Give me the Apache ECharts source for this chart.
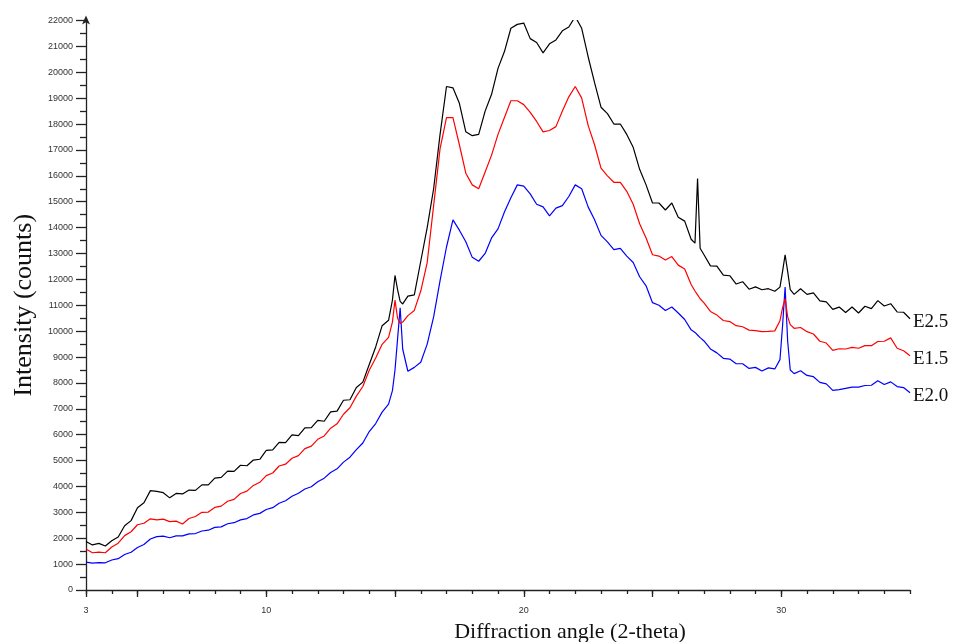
<!DOCTYPE html>
<html>
<head>
<meta charset="utf-8">
<title>XRD patterns</title>
<script src="https://cdn.jsdelivr.net/npm/echarts@6/dist/echarts.min.js"></script>
<style>
  html, body { margin: 0; padding: 0; background: #fff; }
  #chart { width: 956px; height: 642px; }
</style>
</head>
<body>
<div id="chart"></div>
<script>
// Diffraction angle (2-theta), shared by all three patterns
const angles = [
  3.00, 3.25, 3.50, 3.75, 4.00, 4.25, 4.50, 4.75, 5.00, 5.25, 5.50, 5.75,
  6.00, 6.25, 6.50, 6.75, 7.00, 7.25, 7.50, 7.75, 8.00, 8.25, 8.50, 8.75,
  9.00, 9.25, 9.50, 9.75, 10.00, 10.25, 10.50, 10.75, 11.00, 11.25, 11.50, 11.75,
  12.00, 12.25, 12.50, 12.75, 13.00, 13.25, 13.50, 13.75, 14.00, 14.25, 14.50, 14.75,
  14.90, 15.00, 15.10, 15.20, 15.30,
  15.50, 15.75, 16.00, 16.25, 16.50, 16.75, 17.00, 17.25, 17.50, 17.75, 18.00, 18.25,
  18.50, 18.75, 19.00, 19.25, 19.50, 19.75, 20.00, 20.25, 20.50, 20.75, 21.00, 21.25,
  21.50, 21.75, 22.00, 22.25, 22.50, 22.75, 23.00, 23.25, 23.50, 23.75, 24.00, 24.25,
  24.50, 24.75, 25.00, 25.25, 25.50, 25.75, 26.00, 26.25, 26.50,
  26.65, 26.75, 26.85,
  27.00, 27.25, 27.50, 27.75, 28.00, 28.25, 28.50, 28.75, 29.00, 29.25, 29.50, 29.75,
  29.95, 30.05, 30.15, 30.25, 30.35,
  30.50, 30.75, 31.00, 31.25, 31.50, 31.75, 32.00, 32.25, 32.50, 32.75, 33.00, 33.25,
  33.50, 33.75, 34.00, 34.25, 34.50, 34.75, 35.00
];

// Intensity (counts) for each sample
const countsE25 = [
  1870, 1740, 1800, 1700, 1900, 2050, 2480, 2680, 3180, 3370, 3840, 3810,
  3760, 3560, 3730, 3710, 3860, 3850, 4060, 4060, 4320, 4350, 4590, 4580,
  4820, 4800, 5020, 5050, 5390, 5410, 5700, 5690, 5990, 5960, 6260, 6270,
  6550, 6520, 6880, 6910, 7330, 7350, 7820, 8030, 8710, 9390, 10210, 10420,
  11200, 12150, 11600, 11150, 11050,
  11350, 11400, 12700, 14000, 15500, 17600, 19450, 19400, 18800, 17700, 17550, 17600,
  18500, 19150, 20150, 20800, 21700, 21850, 21900, 21300, 21150, 20750, 21100, 21250,
  21600, 21750, 22150, 21700, 20600, 19600, 18650, 18400, 18000, 18000, 17600, 17100,
  16250, 15650, 14950, 14950, 14680, 14950, 14400, 14250, 13550,
  13400, 15900, 13200,
  12950, 12520, 12510, 12160, 12140, 11820, 11910, 11620, 11710, 11600, 11640, 11540,
  11700, 12300, 12950, 12300, 11600,
  11420, 11640, 11420, 11480, 11170, 11130, 10840, 10930, 10720, 10930, 10700, 10960,
  10870, 11180, 10970, 11060, 10740, 10730, 10480
];

const countsE15 = [
  1580, 1440, 1460, 1440, 1660, 1810, 2100, 2250, 2520, 2580, 2750, 2710,
  2740, 2640, 2660, 2550, 2760, 2840, 3000, 3010, 3190, 3240, 3430, 3500,
  3730, 3820, 4040, 4160, 4420, 4520, 4790, 4860, 5090, 5190, 5460, 5560,
  5820, 5950, 6250, 6420, 6790, 7040, 7490, 7860, 8490, 8960, 9490, 9760,
  10350, 11200, 10500, 10300, 10350,
  10600, 10800, 11550, 12650, 14850, 17050, 18250, 18250, 17200, 16100, 15650, 15500,
  16150, 16800, 17600, 18250, 18900, 18900, 18750, 18450, 18100, 17700, 17750, 17900,
  18500, 19050, 19450, 19000, 17950, 17200, 16300, 16000, 15750, 15750, 15400, 14900,
  14150, 13600, 12950, 12900, 12750, 12880, 12550, 12400, 11800,
  11550, 11400, 11250,
  11090, 10760, 10620, 10410, 10370, 10210, 10170, 10040, 10020, 9980, 9990, 10010,
  10400, 10900, 11250, 10550, 10250,
  10110, 10140, 9980, 9890, 9610, 9540, 9260, 9320, 9310, 9370, 9340, 9440,
  9440, 9600, 9610, 9740, 9340, 9240, 9050
];

const countsE20 = [
  1080, 1040, 1060, 1050, 1160, 1210, 1370, 1460, 1640, 1760, 1970, 2060,
  2080, 2020, 2090, 2090, 2170, 2180, 2280, 2310, 2420, 2440, 2560, 2600,
  2710, 2760, 2900, 2960, 3110, 3180, 3350, 3450, 3620, 3740, 3900, 3990,
  4180, 4320, 4540, 4680, 4940, 5130, 5420, 5680, 6120, 6430, 6870, 7180,
  7700, 8500, 9700, 10900, 9300,
  8450, 8600, 8800, 9500, 10550, 11950, 13250, 14300, 13900, 13450, 12850, 12700,
  13000, 13600, 13950, 14600, 15150, 15650, 15600, 15300, 14900, 14800, 14450, 14750,
  14850, 15200, 15650, 15500, 14800, 14300, 13700, 13450, 13150, 13200, 12900, 12650,
  12100, 11750, 11100, 11000, 10800, 10930, 10700, 10450, 10050,
  9950, 9850, 9750,
  9620, 9310, 9160, 8950, 8920, 8740, 8740, 8560, 8600, 8460, 8580, 8540,
  8900, 10200, 11700, 9600, 8500,
  8360, 8470, 8290, 8240, 8020, 7960, 7710, 7740, 7790, 7840, 7840, 7900,
  7910, 8080, 7940, 8040, 7860, 7820, 7620
];

const sampleNames = ['E2.5', 'E1.5', 'E2.0'];
const sampleColors = ['#000000', '#ff0000', '#0000ff'];
const sampleCounts = [countsE25, countsE15, countsE20];

const xLabelValues = [3, 10, 20, 30];
const xMajorTickValues = [3, 5, 10, 15, 20, 25, 30];

const axisColor = '#222';
const labelFont = 'Liberation Sans, Arial, sans-serif';
const titleFont = 'Liberation Serif, Times New Roman, serif';

const chart = echarts.init(document.getElementById('chart'), null, { renderer: 'canvas' });

const series = sampleNames.map((name, i) => ({
  name: name,
  type: 'line',
  xAxisIndex: 0,
  yAxisIndex: 0,
  showSymbol: false,
  symbol: 'none',
  animation: false,
  lineStyle: { color: sampleColors[i], width: 1.2 },
  itemStyle: { color: sampleColors[i] },
  data: angles.map((a, k) => [a, sampleCounts[i][k]]),
  endLabel: {
    show: true,
    formatter: name,
    color: '#111',
    fontFamily: titleFont,
    fontSize: 19,
    distance: 3,
    offset: [0, 3]
  },
  z: 3 - i
}));

chart.setOption({
  backgroundColor: '#ffffff',
  animation: false,
  grid: { left: 86, right: 46, top: 20.5, bottom: 52, outerBoundsMode: 'none', containLabel: false },
  xAxis: [
    {
      type: 'value',
      min: 3,
      max: 35,
      interval: 1,
      axisLine: { show: true, lineStyle: { color: axisColor, width: 1.3 } },
      axisTick: { show: true, length: 4, lineStyle: { color: axisColor, width: 1.3 } },
      axisLabel: {
        color: '#333',
        fontFamily: labelFont,
        fontSize: 9,
        margin: 16,
        formatter: v => (xLabelValues.indexOf(Math.round(v)) >= 0 && Math.abs(v - Math.round(v)) < 1e-6) ? String(Math.round(v)) : ''
      },
      splitLine: { show: false },
      name: 'Diffraction angle (2-theta)',
      nameLocation: 'middle',
      nameGap: 31,
      nameTextStyle: {
        color: '#111',
        fontFamily: titleFont,
        fontSize: 22,
        padding: [0, 0, 0, 144]
      }
    },
    {
      type: 'value',
      min: 3,
      max: 35,
      position: 'bottom',
      axisLine: { show: false },
      axisTick: {
        show: true,
        length: 7,
        customValues: xMajorTickValues,
        lineStyle: { color: axisColor, width: 1.3 }
      },
      axisLabel: { show: false },
      splitLine: { show: false }
    }
  ],
  yAxis: {
    type: 'value',
    min: 0,
    max: 22000,
    interval: 1000,
    axisLine: {
      show: true,
      symbol: ['none', 'arrow'],
      symbolSize: [6, 9],
      symbolOffset: [0, 5],
      lineStyle: { color: axisColor, width: 1.3 }
    },
    axisTick: { show: true, length: 10, lineStyle: { color: axisColor, width: 1.3 } },
    minorTick: { show: true, splitNumber: 2, length: 6, lineStyle: { color: axisColor, width: 1.3 } },
    axisLabel: {
      color: '#333',
      fontFamily: labelFont,
      fontSize: 9,
      margin: 13,
      formatter: v => String(v)
    },
    splitLine: { show: false },
    minorSplitLine: { show: false },
    name: 'Intensity (counts)',
    nameLocation: 'middle',
    nameGap: 49,
    nameTextStyle: {
      color: '#111',
      fontFamily: titleFont,
      fontSize: 26
    }
  },
  series: series
});
</script>
</body>
</html>
